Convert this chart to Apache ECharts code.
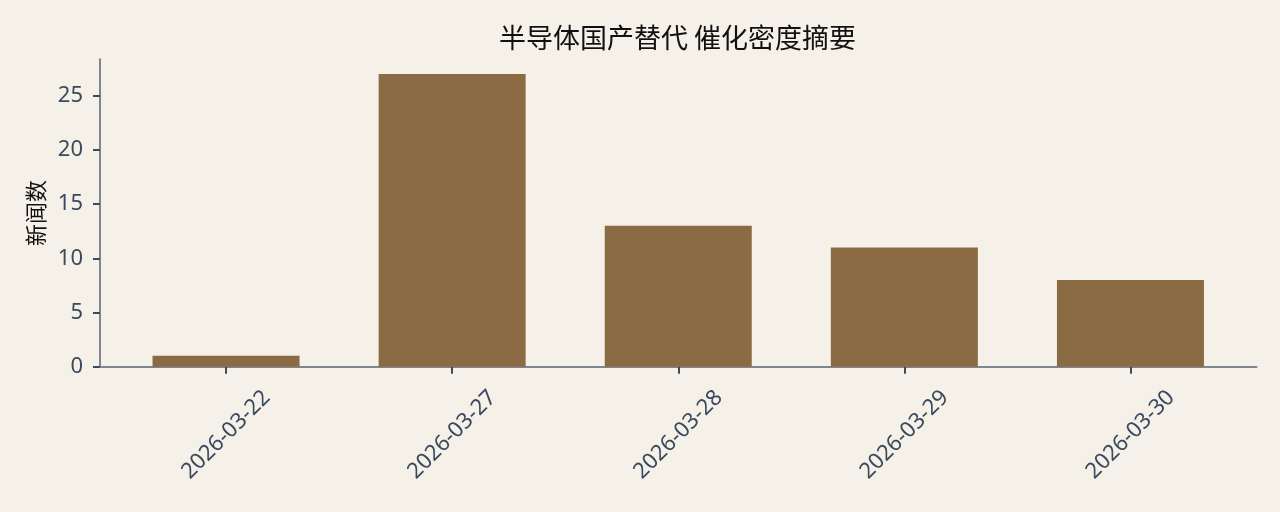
<!DOCTYPE html>
<html>
<head>
<meta charset="utf-8">
<style>
  html, body { margin: 0; padding: 0; background: #f5f0e8; }
  #chart { width: 1280px; height: 512px; }
</style>
<script src="https://cdn.jsdelivr.net/npm/echarts@6/dist/echarts.min.js"></script>
</head>
<body>
<div id="chart"></div>
<script>
// data
var categories = ['2026-03-22', '2026-03-27', '2026-03-28', '2026-03-29', '2026-03-30'];
var newsCounts = [1, 27, 13, 11, 8];
var yTicks = [0, 5, 10, 15, 20, 25];

(function() {
    var myChart = echarts.init(document.getElementById('chart'));
    var positions = categories.map(function(c, i) { return i; });
    var option = {
        backgroundColor: '#f5f0e8',
        animation: false,
        title: {
            text: '半导体国产替代 催化密度摘要',
            left: 672.5,
            top: 19,
            textAlign: 'center',
            textStyle: {
                color: '#111111',
                fontSize: 27,
                fontWeight: 'normal',
                fontFamily: 'Noto Sans CJK SC'
            }
        },
        grid: { left: 100, right: 23.5, top: 59.3, bottom: 145.3, containLabel: false },
        xAxis: {
            type: 'value',
            min: -0.5575,
            max: 4.5575,
            splitLine: { show: false },
            axisLine: { show: true, onZero: false, lineStyle: { color: '#7f8591', width: 2 } },
            axisTick: {
                show: true, length: 7, customValues: positions,
                lineStyle: { color: '#3d4a5c', width: 2 }
            },
            axisLabel: {
                customValues: positions,
                rotate: 45,
                align: 'center',
                verticalAlign: 'middle',
                margin: 68,
                color: '#3a4a5e',
                fontSize: 22,
                fontFamily: 'Noto Sans',
                formatter: function(v) { return categories[v]; }
            }
        },
        yAxis: {
            type: 'value',
            min: 0,
            max: 28.35,
            name: '新闻数',
            nameLocation: 'middle',
            nameGap: 52,
            nameRotate: 90,
            nameTextStyle: { color: '#111111', fontSize: 22, fontFamily: 'Noto Sans CJK SC' },
            splitLine: { show: false },
            axisLine: { show: true, onZero: false, lineStyle: { color: '#7f8591', width: 2 } },
            axisTick: {
                show: true, length: 7, customValues: yTicks,
                lineStyle: { color: '#3d4a5c', width: 2 }
            },
            axisLabel: {
                customValues: yTicks,
                margin: 17,
                color: '#3a4a5e',
                fontSize: 22,
                fontFamily: 'Noto Sans'
            }
        },
        series: [
            {
                type: 'bar',
                barWidth: 147,
                itemStyle: { color: '#8b6b43' },
                data: newsCounts.map(function(v, i) { return [i, v]; })
            }
        ]
    };
    myChart.setOption(option);
})();
</script>
</body>
</html>
